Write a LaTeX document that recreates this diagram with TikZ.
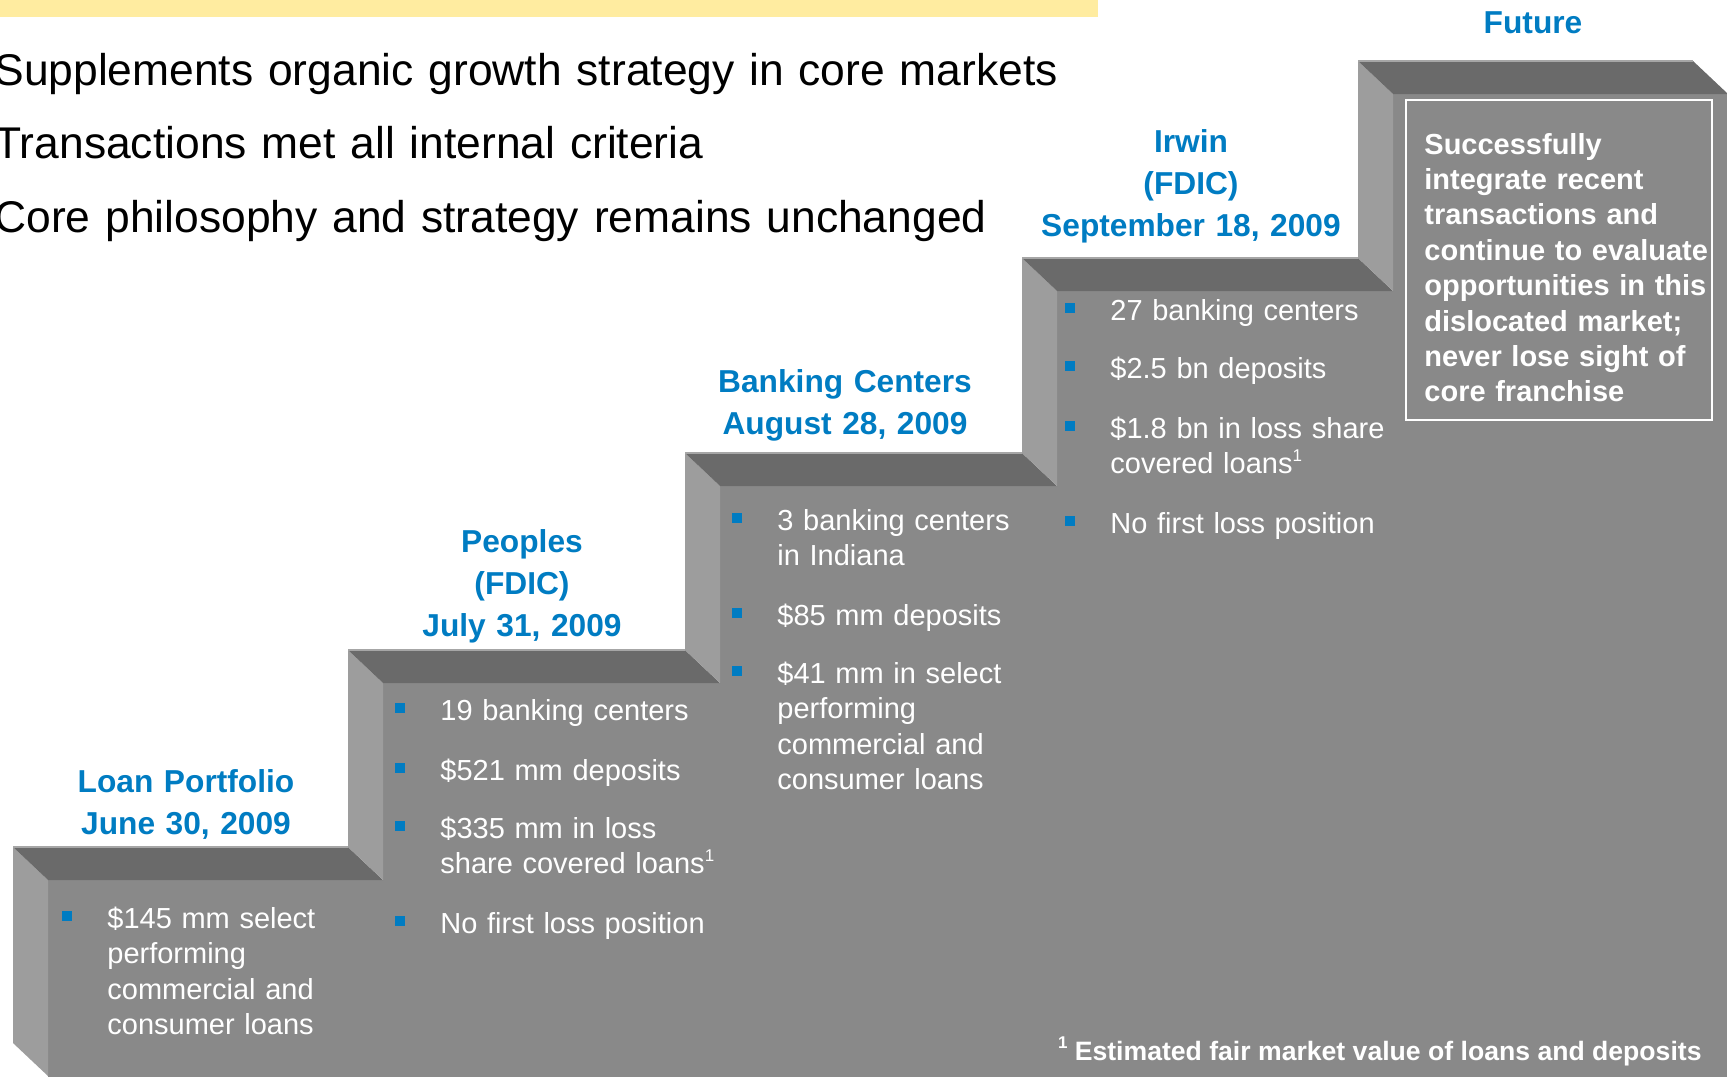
\documentclass[tikz,border=0pt]{standalone}
\usepackage{fontspec}
\setmainfont{Liberation Sans}
\usepackage{tikz}

\definecolor{headblue}{RGB}{0,124,194}
\definecolor{baryellow}{RGB}{255,236,160}
\definecolor{frontgray}{RGB}{137,137,137}
\definecolor{topgray}{RGB}{106,106,106}
\definecolor{sidegray}{RGB}{157,157,157}

% small footnote mark
\newcommand\fnmark{\raisebox{0.42em}{\fontsize{8.5}{8.5}\selectfont 1}}

\begin{document}
\begin{tikzpicture}[x=0.5pt,y=-0.5pt,
  head/.style={text=headblue,font=\bfseries\fontsize{15.85}{21}\selectfont,
    text width=200pt,align=center,anchor=base,inner sep=0},
  item/.style={text=white,font=\fontsize{14.5}{17.75}\selectfont,
    text width=160pt,align=left,anchor=base west,inner sep=0},
  bullet/.style={fill=headblue}]
\useasboundingbox (0,0) rectangle (1727,1076);

% top bar and the three points
\fill[baryellow] (0,0) rectangle (1098,17);
\node[anchor=base west,inner sep=0,text width=600pt,align=left,
  font=\fontsize{22.2}{36.75}\selectfont] (points) at (-6,85)
  {Supplements organic growth strategy in core markets\\
   Transactions met all internal criteria\\
   Core philosophy and strategy remains unchanged};

% the stairs: front, then side and top of each step
\fill[frontgray] (48,1080) -- (48,880) -- (383,880) -- (383,683) -- (720,683)
  -- (720,486) -- (1057,486) -- (1057,291) -- (1393,291) -- (1393,94)
  -- (1728,94) -- (1728,1080) -- cycle;
\foreach \x/\y/\nx/\py in {13/847/348/1043, 348/650/685/847, 685/453/1022/650,
                           1022/258/1358/453, 1358/61/1693/258}{
  \fill[sidegray] (\x,\y) -- (\x+35,\y+33) -- (\x+35,\py+33) -- (\x,\py) -- cycle;
  \fill[topgray] (\x,\y) -- (\nx,\y) -- (\nx+35,\y+33) -- (\x+35,\y+33) -- cycle;
  \draw[gray!70,line width=1pt] (\x,\y) -- (\nx,\y);
}

% headings
\node[head] (loan) at (186,792) {Loan Portfolio\\June 30, 2009};
\node[head] (peoples) at (522,552) {Peoples\\(FDIC)\\July 31, 2009};
\node[head] (banking) at (845,392) {Banking Centers\\August 28, 2009};
\node[head] (irwin) at (1191,152) {Irwin\\(FDIC)\\September 18, 2009};
\node[head] (future) at (1533,33) {Future};

% bullet lists on the steps
\foreach \x/\y/\txt [count=\i] in {
    107/928/{\$145 mm select\\performing\\commercial and\\consumer loans},
    440/720/{19 banking centers},
    440/780/{\$521 mm deposits},
    440/838/{\$335 mm in loss\\share covered loans\fnmark},
    440/933/{No first loss position},
    777/530/{3 banking centers\\in Indiana},
    777/625/{\$85 mm deposits},
    777/683/{\$41 mm in select\\performing\\commercial and\\consumer loans},
    1110/320/{27 banking centers},
    1110/378/{\$2.5 bn deposits},
    1110/438/{\$1.8 bn in loss share\\covered loans\fnmark},
    1110/533/{No first loss position}}{
  \fill[bullet] (\x-45,\y-17.5) rectangle ++(10,10);
  \node[item] (item\i) at (\x,\y) {\txt};
}

% outlook box
\draw[white,line width=1pt] (1406,100) rectangle (1712,420);
\node[item,font=\bfseries\fontsize{14.5}{17.7}\selectfont] (outlook) at (1424,154)
  {Successfully\\integrate recent\\transactions and\\continue to evaluate\\
   opportunities in this\\dislocated market;\\never lose sight of\\core franchise};

\node[anchor=base east,inner sep=0,text=white,font=\bfseries\fontsize{13.3}{16}\selectfont]
  (note) at (1702,1060) {\fnmark\ Estimated fair market value of loans and deposits};
\end{tikzpicture}
\end{document}
